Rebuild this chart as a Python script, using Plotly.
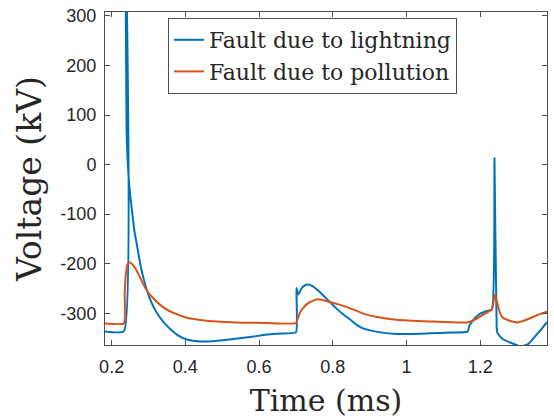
import plotly.graph_objects as go

# Fault due to lightning (blue)
t_lightning = [0.182, 0.2332, 0.2370, 0.2405, 0.2468, 0.2520, 0.2560, 0.2620, 0.2695, 0.2784,
               0.2873, 0.3008, 0.3135, 0.3278, 0.3432, 0.3595, 0.3811, 0.4046, 0.4405,
               0.4811, 0.5297, 0.5757, 0.6208, 0.6568, 0.7000, 0.7013, 0.7067, 0.7150,
               0.7230, 0.7311, 0.7450, 0.7622, 0.7850, 0.8073, 0.8260, 0.8459, 0.8640,
               0.8819, 0.9250, 0.9722, 1.0622, 1.1200, 1.1657, 1.1703, 1.1830, 1.1973,
               1.2150, 1.2316, 1.2385, 1.2445, 1.2468, 1.2603, 1.2850, 1.3100, 1.3300,
               1.3505, 1.3660, 1.381]
v_lightning = [-336.5, -336.5, 520, 67, -33, -72, -99, -135, -166, -203,
               -232, -265, -287, -305, -320, -332, -345, -353, -357,
               -356, -352, -348, -343, -341, -338.5, -249, -262, -250,
               -244, -242, -245, -255.5, -272, -288.6, -301, -312, -323,
               -330.5, -338, -342, -340.5, -339, -337, -325, -312, -302,
               -296, -292, 13, -330, -340, -352, -360, -367, -362,
               -345, -332, -318]

# Fault due to pollution (orange)
t_pollution = [0.182, 0.2332, 0.2354, 0.2381, 0.2427, 0.2486, 0.2560, 0.2665, 0.2800,
               0.2935, 0.3116, 0.3330, 0.3565, 0.4014, 0.4465, 0.5365, 0.6200, 0.7000,
               0.7050, 0.7108, 0.7189, 0.7289, 0.7420, 0.7559, 0.7700, 0.7829, 0.8150,
               0.8459, 0.8819, 0.9250, 0.9722, 1.0622, 1.1657, 1.1884, 1.2100, 1.2316,
               1.2397, 1.2468, 1.2530, 1.2603, 1.2800, 1.3008, 1.3250, 1.3505, 1.381]
v_pollution = [-320.5, -320.5, -258.7, -225.6, -202, -197.7, -201, -212, -232,
               -252, -268.7, -284, -295.4, -308.6, -314, -318.5, -319.5, -320,
               -311, -298.6, -290, -282, -276, -272, -272.5, -275.4, -282,
               -289.5, -300.6, -308, -313, -316.5, -318.5, -312, -302, -292,
               -262, -282, -298, -308.6, -315, -318.5, -313, -305, -297]

x_ticks = [0.2, 0.4, 0.6, 0.8, 1.0, 1.2]
x_ticklabels = ["0.2", "0.4", "0.6", "0.8", "1", "1.2"]
y_ticks = [-300, -200, -100, 0, 100, 200, 300]
y_ticklabels = ["-300", "-200", "-100", "0", "100", "200", "300"]

SERIF = '"DejaVu Serif", serif'
SANS = '"Liberation Sans", Arial, Helvetica, sans-serif'

fig = go.Figure()
fig.add_trace(go.Scatter(x=t_lightning, y=v_lightning, mode="lines",
                         name="Fault due to lightning",
                         line=dict(color="#0072BD", width=2, shape="spline", smoothing=0.4)))
fig.add_trace(go.Scatter(x=t_pollution, y=v_pollution, mode="lines",
                         name="Fault due to pollution",
                         line=dict(color="#D95319", width=2, shape="spline", smoothing=0.4)))

axis_common = dict(showline=True, mirror="ticks", linecolor="#4d4d4d", linewidth=1,
                   ticks="inside", ticklen=5, tickcolor="#4d4d4d", tickwidth=1,
                   showgrid=False, zeroline=False, automargin=True,
                   tickfont=dict(family=SANS, size=18, color="#262626"))

fig.update_xaxes(range=[0.182, 1.381], tickmode="array", tickvals=x_ticks,
                 ticktext=x_ticklabels, ticklabelstandoff=5,
                 title=dict(text="Time (ms)", standoff=14,
                            font=dict(family=SERIF, size=30, color="#262626")),
                 **axis_common)
fig.update_yaxes(range=[-364, 308], tickmode="array", tickvals=y_ticks,
                 ticktext=y_ticklabels, ticklabelstandoff=4,
                 title=dict(text="Voltage (kV)", standoff=8,
                            font=dict(family=SERIF, size=33, color="#262626")),
                 **axis_common)

fig.update_layout(
    width=554, height=418,
    margin=dict(l=105, r=6, t=9, b=72),
    paper_bgcolor="white", plot_bgcolor="white",
    legend=dict(x=0.1425, y=0.982, xanchor="left", yanchor="top",
                bgcolor="white", bordercolor="#4d4d4d", borderwidth=1,
                font=dict(family=SERIF, size=22, color="#262626"),
                tracegroupgap=0),
    showlegend=True,
)

fig.write_html("out.html", config={"displayModeBar": False},
               post_script="document.body.style.margin='0';document.body.style.padding='0';")
